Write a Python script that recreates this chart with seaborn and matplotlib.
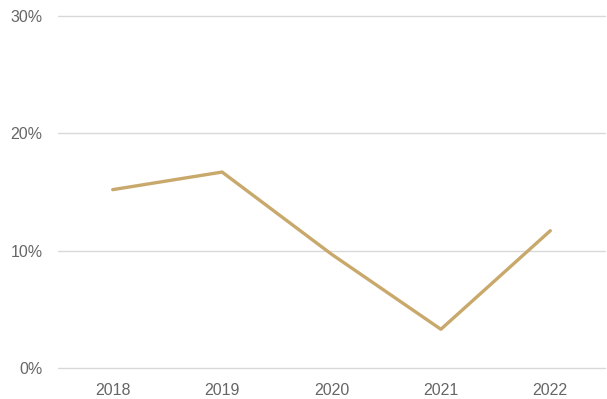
import matplotlib
matplotlib.use("Agg")
import matplotlib.pyplot as plt
import seaborn as sns
import pandas as pd
from matplotlib.ticker import FuncFormatter

years = ["2018", "2019", "2020", "2021", "2022"]
growth = [15.2, 16.7, 9.7, 3.3, 11.7]

df = pd.DataFrame({"year": years, "growth": growth})

sns.set_theme(style="white")
plt.rcParams["font.family"] = ["Liberation Sans Narrow", "Liberation Sans", "DejaVu Sans"]

fig = plt.figure(figsize=(6.07, 3.99), dpi=100)
ax = fig.add_axes([58 / 607, 1 - 368 / 399, (605 - 58) / 607, (368 - 16) / 399])

sns.lineplot(data=df, x="year", y="growth", ax=ax, color="#C9A96B",
             linewidth=2.4, sort=False)

ax.set_ylim(0, 30)
ax.set_xlim(-0.5, len(years) - 0.5)
ax.set_yticks([0, 10, 20, 30])
ax.yaxis.set_major_formatter(FuncFormatter(lambda v, _: f"{v:.0f}%"))
ax.grid(axis="y", color="#D9D9D9", linewidth=1)
ax.grid(axis="x", visible=False)
ax.set_axisbelow(True)
for line in ax.get_ygridlines():
    line.set_clip_on(False)
for s in ax.spines.values():
    s.set_visible(False)
ax.set_xlabel("")
ax.set_ylabel("")
ax.tick_params(axis="y", length=0, pad=11, labelsize=11.5, labelcolor="#666666")
ax.tick_params(axis="x", length=0, pad=11, labelsize=11.5, labelcolor="#666666")

fig.savefig("out.png", dpi=100)
